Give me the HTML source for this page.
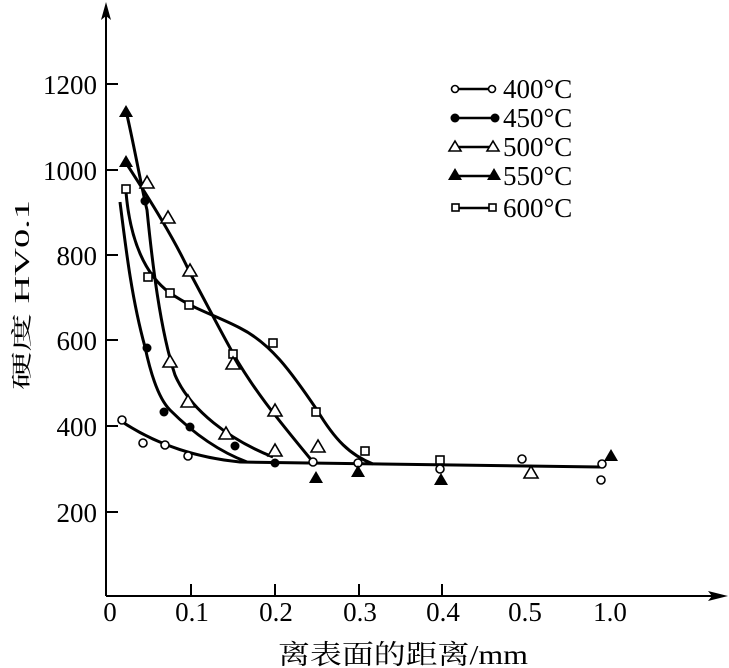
<!DOCTYPE html>
<html><head><meta charset="utf-8"><style>
html,body{margin:0;padding:0;background:#fff;}
svg{display:block;font-family:"Liberation Serif","Noto Serif CJK SC",serif;}
</style></head><body>
<svg width="729" height="668" viewBox="0 0 729 668" xmlns="http://www.w3.org/2000/svg">
<g stroke="#000" stroke-width="2" fill="none">
<line x1="106" y1="596" x2="716" y2="596"/>
<line x1="106" y1="596" x2="106" y2="12"/>
<line x1="106" y1="84" x2="118" y2="84"/>
<line x1="106" y1="170" x2="118" y2="170"/>
<line x1="106" y1="255" x2="118" y2="255"/>
<line x1="106" y1="340" x2="118" y2="340"/>
<line x1="106" y1="426" x2="118" y2="426"/>
<line x1="106" y1="512" x2="118" y2="512"/>
<line x1="191" y1="596" x2="191" y2="584"/>
<line x1="275" y1="596" x2="275" y2="584"/>
<line x1="359" y1="596" x2="359" y2="584"/>
<line x1="442" y1="596" x2="442" y2="584"/>
</g>
<polygon points="728,596 708,591 712,596 708,601" fill="#000"/>
<polygon points="106,2 101,20 106,16 111,20" fill="#000"/>
<g font-size="27" text-anchor="end" fill="#000">
<text x="97" y="94">1200</text><text x="97" y="180">1000</text><text x="97" y="265">800</text>
<text x="97" y="350">600</text><text x="97" y="436">400</text><text x="97" y="522">200</text>
</g>
<g font-size="27" text-anchor="middle" fill="#000">
<text x="110" y="621">0</text><text x="192" y="621">0.1</text><text x="276" y="621">0.2</text>
<text x="360" y="621">0.3</text><text x="443" y="621">0.4</text><text x="525" y="621">0.5</text><text x="610" y="621">1.0</text>
</g>
<text x="278" y="664" font-size="27" textLength="250" lengthAdjust="spacingAndGlyphs">离表面的距离/mm</text>
<text transform="translate(29,390) rotate(-90)" font-size="21" textLength="190" lengthAdjust="spacingAndGlyphs">硬度 HV0.1</text>
<g stroke="#000" stroke-width="3" fill="none">
<path d="M118,419 Q170,455 240,462 L600,467"/>
<path d="M120,202 C126,250 132,300 145,347 C152,380 160,400 170,410 C190,430 215,450 247,462"/>
<path d="M127,115 C135,150 142,190 147,210 C152,260 160,330 175,375 C190,410 230,440 273,457"/>
<path d="M126,163 C150,200 175,240 190,273 C210,310 225,340 238,362 C255,390 270,410 313,462"/>
<path d="M126,192 C130,240 145,275 170,293 C195,310 215,315 240,328 C270,343 290,370 317,410 C335,440 350,455 373,464"/>
</g>
<g stroke="#000" stroke-width="1.6" fill="#fff">
<circle cx="122" cy="420" r="4"/><circle cx="143" cy="443" r="4"/><circle cx="165" cy="445" r="4"/><circle cx="188" cy="456" r="4"/><circle cx="313" cy="462" r="4"/><circle cx="358" cy="463" r="4"/><circle cx="440" cy="469" r="4"/><circle cx="522" cy="459" r="4"/><circle cx="602" cy="464" r="4"/><circle cx="601" cy="480" r="4"/>
<rect x="122" y="185" width="8" height="8"/><rect x="144" y="273" width="8" height="8"/><rect x="166" y="289" width="8" height="8"/><rect x="185" y="301" width="8" height="8"/><rect x="229" y="350" width="8" height="8"/><rect x="269" y="339" width="8" height="8"/><rect x="312" y="408" width="8" height="8"/><rect x="361" y="447" width="8" height="8"/><rect x="436" y="456" width="8" height="8"/>
</g>
<g fill="#000">
<circle cx="145" cy="201" r="4.5"/><circle cx="147" cy="348" r="4.5"/><circle cx="164" cy="412" r="4.5"/><circle cx="190" cy="427" r="4.5"/><circle cx="235" cy="446" r="4.5"/><circle cx="275" cy="463" r="4.5"/>
<polygon points="126,105 119,117 133,117"/><polygon points="126,155 119,167 133,167"/><polygon points="316,471 309,483 323,483"/><polygon points="358,465 351,477 365,477"/><polygon points="441,473 434,485 448,485"/><polygon points="611,449 604,461 618,461"/>
</g>
<g stroke="#000" stroke-width="1.6" fill="#fff">
<polygon points="147,176 140,188 154,188"/><polygon points="168,211 161,223 175,223"/><polygon points="190,264 183,276 197,276"/><polygon points="170,355 163,367 177,367"/><polygon points="188,395 181,407 195,407"/><polygon points="226,427 219,439 233,439"/><polygon points="233,357 226,369 240,369"/><polygon points="275,404 268,416 282,416"/><polygon points="275,444 268,456 282,456"/><polygon points="318,440 311,452 325,452"/><polygon points="531,466 524,478 538,478"/>
</g>
<g stroke="#000" stroke-width="2.5"><line x1="455" y1="89" x2="492" y2="89"/><line x1="455" y1="118" x2="495" y2="118"/><line x1="455" y1="147" x2="495" y2="147"/><line x1="455" y1="176" x2="495" y2="176"/><line x1="455" y1="208" x2="492" y2="208"/></g>
<g stroke="#000" stroke-width="1.6" fill="#fff">
<circle cx="455" cy="89" r="3.5"/><circle cx="492" cy="89" r="3.5"/>
<polygon points="455,141 449,151 461,151"/><polygon points="493,141 487,151 499,151"/>
<rect x="452" y="204" width="7" height="7"/><rect x="489" y="204" width="7" height="7"/>
</g>
<g fill="#000">
<circle cx="455" cy="118" r="4.5"/><circle cx="495" cy="118" r="4.5"/>
<polygon points="455,168 448,180 462,180"/><polygon points="494,168 487,180 501,180"/>
</g>
<g font-size="27" fill="#000">
<text x="503" y="98">400°C</text><text x="503" y="127">450°C</text><text x="503" y="156">500°C</text><text x="503" y="185">550°C</text><text x="503" y="217">600°C</text>
</g>
</svg>
</body></html>
